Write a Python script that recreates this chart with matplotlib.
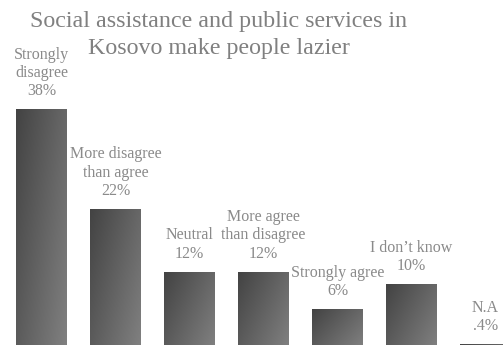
import numpy as np
import matplotlib
matplotlib.use("Agg")
import matplotlib.pyplot as plt
from matplotlib.colors import LinearSegmentedColormap

# Survey answers and shares (%)
answers = ["Strongly\ndisagree", "More disagree\nthan agree", "Neutral",
           "More agree\nthan disagree", "Strongly agree", "I don\u2019t know", "N.A"]
shares = [38, 22, 12, 12, 6, 10, 0.4]
share_labels = ["38%", "22%", "12%", "12%", "6%", "10%", ".4%"]
title_lines = ["Social assistance and public services in", "Kosovo make people lazier"]

plt.rcParams['font.family'] = ['Liberation Serif', 'DejaVu Serif']
text_color = "#8a8a8a"

fig = plt.figure(figsize=(5.03, 3.45), dpi=100)
ax = fig.add_axes([0, 0, 1, 1])
ax.set_axis_off()

bar_w = 0.68
px_per_unit = 6.24
base_px = 347

# diagonal grey gradient, dark at top-left
cmap = LinearSegmentedColormap.from_list("bars", ["#434343", "#808080"])
u = np.linspace(0, 1, 60)
v = np.linspace(0, 1, 120)
U, V = np.meshgrid(u, v)
grad = (U * 0.6 + V * 0.4)

for i, (name, val, lab) in enumerate(zip(answers, shares, share_labels)):
    ax.imshow(grad, cmap=cmap, vmin=0, vmax=1, aspect="auto",
              extent=(i - bar_w / 2, i + bar_w / 2, 0, val), origin="upper",
              interpolation="bilinear", zorder=2)
    ax.annotate(f"{name}\n{lab}", xy=(i, val), xytext=(0, 10.5),
                textcoords="offset pixels", ha="center", va="bottom",
                fontsize=11.5, color=text_color, linespacing=1.2)

ax.set_xlim(-41.5 / 74, (503 - 41.5) / 74)
ax.set_ylim((base_px - 345) / px_per_unit, base_px / px_per_unit)

# two-line title, one text per line
for line, y_px in zip(title_lines, [27, 54]):
    fig.text(219 / 503, 1 - y_px / 345, line, ha="center", va="baseline",
             fontsize=17.3, color="#808080")

fig.savefig("out.png", dpi=100)
